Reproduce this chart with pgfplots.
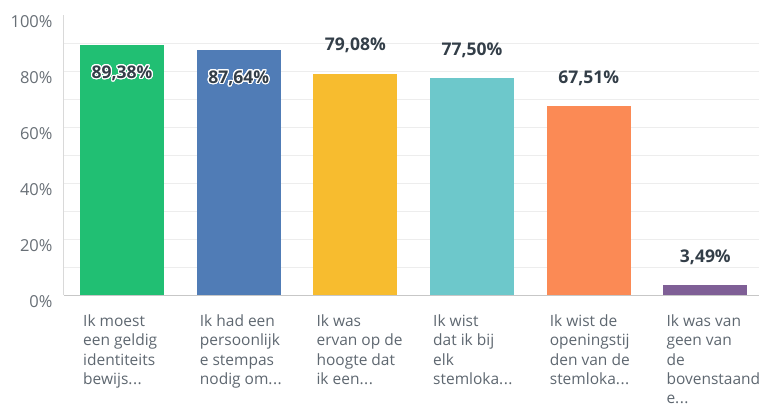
\documentclass[border=0pt]{standalone}
\usepackage{pgfplots}
\pgfplotsset{compat=1.18}
\usepackage{fontspec}
\setmainfont{Open Sans}
\usepackage{contour}
\contourlength{1.1pt}
\contournumber{24}

\definecolor{cGreen}{HTML}{21BF73}
\definecolor{cBlue}{HTML}{507CB6}
\definecolor{cYellow}{HTML}{F7BC2F}
\definecolor{cTeal}{HTML}{6DC8CB}
\definecolor{cOrange}{HTML}{FB8A55}
\definecolor{cPurple}{HTML}{7F5F96}
\definecolor{valtxt}{HTML}{333E48}
\definecolor{cattxt}{HTML}{5E6770}
\definecolor{ticktxt}{HTML}{686F76}

\newcommand{\el}{.\kern0.5pt.\kern0.5pt.}
\newcommand{\val}[1]{\pgfmathprintnumber[fixed, fixed zerofill, precision=2, use comma]{#1}\%}

\pgfplotsset{
    barbase/.style={ybar, bar width=84pt, bar shift=0pt, draw=none,
        every node near coord/.append style={
            font=\fontsize{17.5}{20}\selectfont\bfseries, text=valtxt,
            anchor=center, inner sep=0pt}},
    above/.style={nodes near coords={\val{\pgfplotspointmeta}},
        every node near coord/.append style={yshift=28pt}},
    inside/.style={nodes near coords={\contour{white}{\val{\pgfplotspointmeta}}},
        every node near coord/.append style={yshift=-29pt}},
}

\begin{document}
\begin{tikzpicture}
\path[use as bounding box] (-63.7pt,-111pt) rectangle (695.3pt,295pt);
\begin{axis}[
    at={(0,0)}, anchor=south west,
    scale only axis, width=695.3pt, height=280pt,
    xmin=-0.5, xmax=5.46, ymin=0, ymax=100,
    axis x line*=bottom, axis y line*=left,
    x axis line style={draw=black!22, line width=0.8pt, -},
    y axis line style={draw=black!15, line width=0.8pt, -},
    major tick length=0pt, minor tick length=0pt,
    ytick={0,20,...,100},
    minor ytick={10,20,...,90},
    yminorgrids=true,
    minor grid style={draw=black!7, line width=0.8pt},
    yticklabel={\pgfmathprintnumber{\tick}\%},
    /pgf/number format/assume math mode=true,
    yticklabel style={font=\fontsize{16.5}{18}\selectfont, text=ticktxt,
        anchor=east, inner sep=0pt, xshift=-11pt, yshift=-7pt},
    xtick={0,...,5},
    xticklabels={
        {Ik moest\\een geldig\\identiteits\\bewijs\el},
        {Ik had een\\persoonlijk\\e stempas\\nodig om\el},
        {Ik was\\ervan op de\\hoogte dat\\ik een\el},
        {Ik wist\\dat ik bij\\elk\\stemloka\el},
        {Ik wist de\\openingstij\\den van de\\stemloka\el},
        {Ik was van\\geen van\\de\\bovenstaand\\e\el}},
    xticklabel style={font=\fontsize{15.5}{19.3}\selectfont, text=cattxt,
        align=left, anchor=north west, inner sep=0pt,
        xshift=-39pt, yshift=-19.5pt},
    clip=false,
]
\addplot[barbase, inside, fill=cGreen]  coordinates {(0,89.38)};
\addplot[barbase, inside, fill=cBlue]   coordinates {(1,87.64)};
\addplot[barbase, above,  fill=cYellow] coordinates {(2,79.08)};
\addplot[barbase, above,  fill=cTeal]   coordinates {(3,77.50)};
\addplot[barbase, above,  fill=cOrange] coordinates {(4,67.51)};
\addplot[barbase, above,  fill=cPurple] coordinates {(5,3.49)};
\end{axis}
\end{tikzpicture}
\end{document}
